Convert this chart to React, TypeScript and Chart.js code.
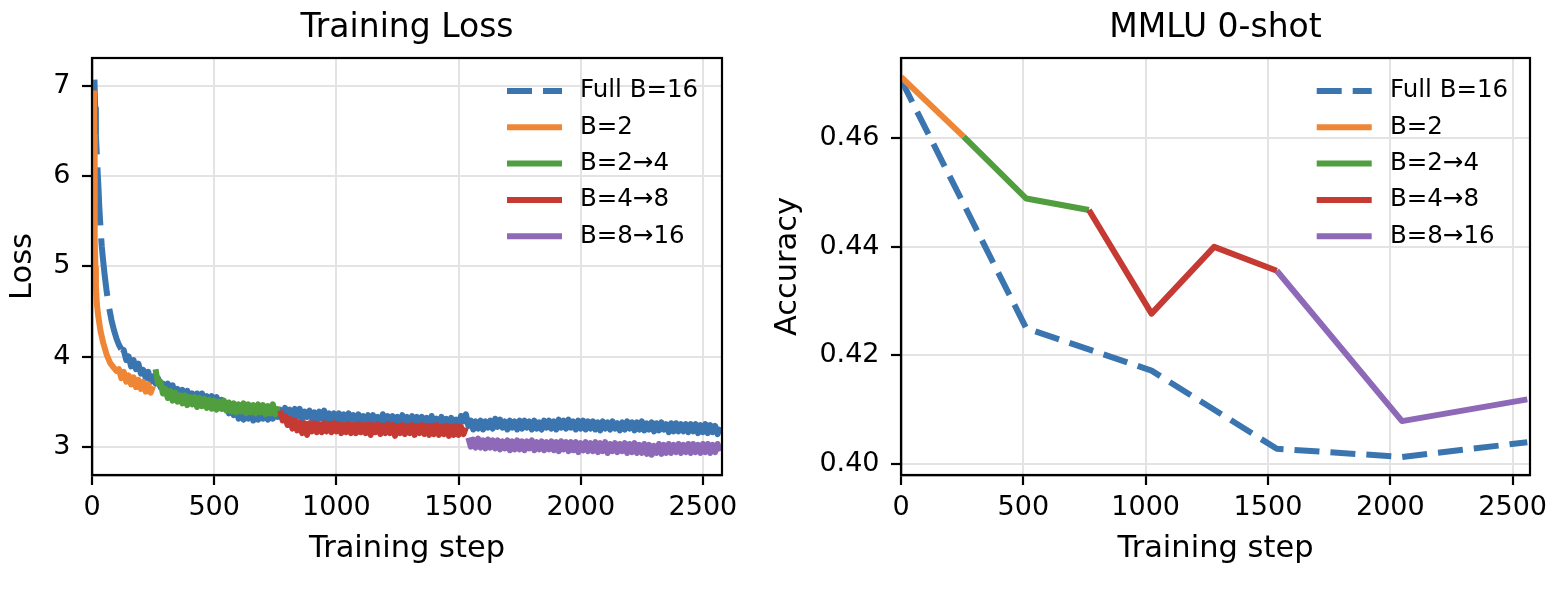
import React, { useEffect, useRef } from 'react';
import { Chart, registerables } from 'chart.js';

Chart.register(...registerables);

const FONT = "'DejaVu Sans', 'Liberation Sans', Arial, sans-serif";

// ---------- shared ----------
const seriesLabels = ['Full B=16', 'B=2', 'B=2→4', 'B=4→8', 'B=8→16'];
const seriesColors = ['#3b75af', '#ef8636', '#519e3e', '#c53a32', '#8d69b8'];

// ---------- Training loss (left) ----------
const LOG_EVERY = 10;
const lossTicksX = [0, 500, 1000, 1500, 2000, 2500];
const lossTicksY = [3, 4, 5, 6, 7];

const lossFullHeadSteps = [10, 13, 16, 20, 23, 26, 30, 35, 40, 46, 52, 60, 70, 80, 90, 100, 110, 120];
const lossFullHead = [7.07, 6.75, 6.45, 6.22, 6.05, 5.9, 5.65, 5.42, 5.22, 5.05, 4.9, 4.72, 4.54, 4.4, 4.29, 4.2, 4.13, 4.08];
const lossFullTailStart = 130;
const lossFullTail = [
  4.07, 3.96, 4.0, 3.89, 3.96, 3.86, 3.92, 3.81, 3.85, 3.76,
  3.83, 3.72, 3.78, 3.7, 3.76, 3.66, 3.7, 3.62, 3.7, 3.61,
  3.68, 3.58, 3.64, 3.55, 3.63, 3.56, 3.62, 3.53, 3.59, 3.5,
  3.59, 3.49, 3.59, 3.5, 3.56, 3.47, 3.56, 3.47, 3.55, 3.46,
  3.52, 3.42, 3.47, 3.37, 3.45, 3.35, 3.41, 3.31, 3.38, 3.3,
  3.39, 3.31, 3.38, 3.29, 3.37, 3.3, 3.39, 3.31, 3.39, 3.3,
  3.39, 3.31, 3.41, 3.33, 3.41, 3.32, 3.43, 3.34, 3.41, 3.33,
  3.42, 3.33, 3.42, 3.31, 3.39, 3.33, 3.4, 3.31, 3.38, 3.3,
  3.39, 3.31, 3.4, 3.3, 3.37, 3.28, 3.37, 3.3, 3.37, 3.28,
  3.36, 3.28, 3.37, 3.26, 3.35, 3.28, 3.36, 3.27, 3.34, 3.25,
  3.35, 3.27, 3.35, 3.26, 3.33, 3.26, 3.36, 3.26, 3.34, 3.25,
  3.34, 3.25, 3.33, 3.24, 3.35, 3.26, 3.33, 3.25, 3.34, 3.26,
  3.33, 3.24, 3.33, 3.24, 3.32, 3.23, 3.34, 3.25, 3.31, 3.22,
  3.33, 3.24, 3.31, 3.22, 3.32, 3.23, 3.3, 3.22, 3.34, 3.28,
  3.36, 3.23, 3.29, 3.19, 3.28, 3.2, 3.29, 3.19, 3.28, 3.21,
  3.29, 3.2, 3.31, 3.22, 3.3, 3.21, 3.28, 3.19, 3.29, 3.21,
  3.28, 3.19, 3.29, 3.2, 3.29, 3.21, 3.28, 3.19, 3.29, 3.2,
  3.27, 3.19, 3.29, 3.21, 3.29, 3.2, 3.28, 3.19, 3.3, 3.21,
  3.29, 3.2, 3.3, 3.21, 3.28, 3.19, 3.29, 3.2, 3.29, 3.19,
  3.28, 3.2, 3.28, 3.19, 3.27, 3.18, 3.28, 3.2, 3.27, 3.19,
  3.28, 3.2, 3.26, 3.18, 3.27, 3.19, 3.28, 3.2, 3.27, 3.18,
  3.27, 3.19, 3.28, 3.18, 3.26, 3.19, 3.27, 3.17, 3.26, 3.18,
  3.27, 3.19, 3.25, 3.16, 3.26, 3.17, 3.26, 3.17, 3.25, 3.17,
  3.25, 3.16, 3.25, 3.17, 3.25, 3.15, 3.24, 3.16, 3.25, 3.15,
  3.24, 3.16, 3.23, 3.14, 3.22,
];

const lossB2HeadSteps = [8, 9, 10, 11, 12, 14, 16, 20, 26, 35, 46, 60, 74, 88, 100];
const lossB2Head = [6.95, 6.45, 6.0, 5.6, 5.3, 4.98, 4.78, 4.58, 4.44, 4.28, 4.15, 4.02, 3.93, 3.88, 3.84];
const lossB2TailStart = 110;
const lossB2Tail = [3.86, 3.76, 3.83, 3.72, 3.79, 3.69, 3.77, 3.66, 3.74, 3.64, 3.72, 3.61, 3.69, 3.6, 3.67];

const lossB24Start = 260;
const lossB24 = [
  3.86, 3.7, 3.72, 3.59, 3.64, 3.54, 3.62, 3.51, 3.6, 3.5,
  3.57, 3.48, 3.57, 3.46, 3.55, 3.47, 3.55, 3.44, 3.54, 3.45,
  3.53, 3.43, 3.52, 3.42, 3.51, 3.41, 3.5, 3.42, 3.51, 3.4,
  3.49, 3.39, 3.48, 3.38, 3.47, 3.39, 3.48, 3.37, 3.47, 3.38,
  3.46, 3.37, 3.47, 3.38, 3.46, 3.36, 3.45, 3.37, 3.47, 3.36,
  3.45,
];

const lossB48Start = 770;
const lossB48 = [
  3.4, 3.29, 3.34, 3.24, 3.31, 3.2, 3.29, 3.18, 3.27, 3.15,
  3.26, 3.13, 3.26, 3.17, 3.26, 3.16, 3.25, 3.16, 3.26, 3.17,
  3.25, 3.16, 3.26, 3.17, 3.25, 3.15, 3.24, 3.16, 3.25, 3.15,
  3.24, 3.15, 3.25, 3.16, 3.24, 3.15, 3.25, 3.13, 3.24, 3.16,
  3.25, 3.14, 3.23, 3.15, 3.25, 3.15, 3.24, 3.12, 3.23, 3.15,
  3.24, 3.14, 3.23, 3.15, 3.24, 3.13, 3.23, 3.15, 3.24, 3.14,
  3.23, 3.13, 3.23, 3.14, 3.24, 3.13, 3.22, 3.14, 3.23, 3.12,
  3.22, 3.13, 3.23, 3.13, 3.22, 3.14, 3.21,
];

const lossB816Start = 1540;
const lossB816 = [
  3.1, 3.0, 3.08, 2.99, 3.09, 2.99, 3.07, 2.98, 3.08, 2.99,
  3.07, 2.98, 3.07, 2.97, 3.06, 2.98, 3.07, 2.96, 3.06, 2.97,
  3.07, 2.97, 3.06, 2.96, 3.06, 2.98, 3.07, 2.96, 3.05, 2.97,
  3.06, 2.96, 3.05, 2.97, 3.06, 2.96, 3.05, 2.95, 3.06, 2.97,
  3.05, 2.95, 3.05, 2.96, 3.05, 2.94, 3.04, 2.96, 3.05, 2.95,
  3.04, 2.95, 3.05, 2.94, 3.04, 2.95, 3.05, 2.93, 3.03, 2.95,
  3.04, 2.94, 3.03, 2.95, 3.04, 2.93, 3.03, 2.94, 3.04, 2.93,
  3.02, 2.93, 3.03, 2.92, 3.02, 2.91, 3.01, 2.93, 3.03, 2.92,
  3.02, 2.93, 3.03, 2.93, 3.02, 2.94, 3.03, 2.93, 3.02, 2.94,
  3.03, 2.93, 3.03, 2.94, 3.02, 2.93, 3.03, 2.94, 3.03, 2.93,
  3.02, 2.94, 3.03, 2.95,
];

// ---------- MMLU 0-shot (right) ----------
const accTicksX = [0, 500, 1000, 1500, 2000, 2500];
const accTicksY = [0.4, 0.42, 0.44, 0.46];
const mmluFullSteps = [0, 512, 1024, 1536, 2048, 2560];
const mmluFull = [0.4708, 0.425, 0.4172, 0.4028, 0.4013, 0.404];
const mmluB2Steps = [0, 256];
const mmluB2 = [0.4713, 0.4603];
const mmluB24Steps = [256, 512, 768];
const mmluB24 = [0.4603, 0.4489, 0.4468];
const mmluB48Steps = [768, 1024, 1280, 1536];
const mmluB48 = [0.4468, 0.4277, 0.44, 0.4356];
const mmluB816Steps = [1536, 2048, 2560];
const mmluB816 = [0.4356, 0.4079, 0.4119];

// ---------- helpers ----------
const pts = (steps: number[], vals: number[]) => steps.map((s, i) => ({ x: s, y: vals[i] }));
const seq = (start: number, vals: number[]) => vals.map((v, i) => ({ x: start + i * LOG_EVERY, y: v }));

const framePlugin = {
  id: 'frame',
  afterDatasetsDraw(chart: any) {
    const { ctx, chartArea: a } = chart;
    ctx.save();
    ctx.strokeStyle = '#000';
    ctx.lineWidth = 2.2;
    ctx.setLineDash([]);
    ctx.strokeRect(a.left, a.top, a.right - a.left, a.bottom - a.top);
    ctx.restore();
  },
};

const legendPlugin = {
  id: 'mplLegend',
  afterDraw(chart: any, _args: any, opts: any) {
    const { ctx, chartArea } = chart;
    const ds = chart.data.datasets;
    ctx.save();
    ds.forEach((d: any, i: number) => {
      const y = chartArea.top + opts.top + i * opts.rowGap;
      ctx.beginPath();
      ctx.setLineDash(d.legendDash || []);
      ctx.lineWidth = opts.lineWidth;
      ctx.strokeStyle = d.borderColor;
      ctx.lineCap = 'butt';
      ctx.moveTo(chartArea.right - opts.handleFrom, y);
      ctx.lineTo(chartArea.right - opts.handleTo, y);
      ctx.stroke();
      ctx.setLineDash([]);
      ctx.fillStyle = '#000';
      ctx.font = `${opts.fontSize}px ${FONT}`;
      ctx.textAlign = 'left';
      ctx.textBaseline = 'middle';
      ctx.fillText(d.label, chartArea.right - opts.textFrom, y);
    });
    ctx.restore();
  },
};

function makeScales(p: {
  xMax: number; yMin: number; yMax: number; xTicks: number[]; yTicks: number[];
  yFmt: (v: number) => string; xTitle: string; yTitle: string; yAxisWidth: number; yTitlePad: number;
}) {
  const grid = { color: '#e3e3e3', lineWidth: 2, drawTicks: true, tickLength: 10, tickColor: '#000', tickWidth: 2.2 };
  const tickFont = { family: FONT, size: 27 };
  return {
    x: {
      type: 'linear', min: 0, max: p.xMax,
      grid, border: { display: true, color: '#000', width: 2.2 },
      afterBuildTicks: (s: any) => { s.ticks = p.xTicks.map((v) => ({ value: v })); },
      afterFit: (s: any) => { s.height = 119; s.paddingLeft = 0; s.paddingRight = 0; },
      ticks: { font: tickFont, color: '#000', padding: 6.5, maxRotation: 0, autoSkip: false, callback: (v: any) => String(v) },
      title: { display: true, text: p.xTitle, font: { family: FONT, size: 30.5 }, color: '#000', padding: { top: 0, bottom: 26.7 } },
    },
    y: {
      type: 'linear', min: p.yMin, max: p.yMax,
      grid, border: { display: true, color: '#000', width: 2.2 },
      afterBuildTicks: (s: any) => { s.ticks = p.yTicks.map((v) => ({ value: v })); },
      afterFit: (s: any) => { s.width = p.yAxisWidth; s.paddingTop = 0; s.paddingBottom = 0; },
      ticks: { font: tickFont, color: '#000', padding: 11.5, autoSkip: false, callback: (v: any) => p.yFmt(Number(v)) },
      title: { display: true, text: p.yTitle, font: { family: FONT, size: 30.5 }, color: '#000', padding: { top: p.yTitlePad, bottom: 0 } },
    },
  };
}

function baseOptions(title: string, scales: any, padRight: number, legend: any) {
  return {
    responsive: false,
    animation: false,
    devicePixelRatio: 1,
    events: [],
    layout: { padding: { left: 0, right: padRight, top: 0, bottom: 0 } },
    elements: { line: { tension: 0, borderJoinStyle: 'round', borderCapStyle: 'butt', fill: false }, point: { radius: 0 } },
    scales,
    plugins: {
      legend: { display: false },
      tooltip: { enabled: false },
      title: {
        display: true, text: title, fullSize: false, color: '#000',
        font: { family: FONT, size: 33, weight: 'normal' },
        padding: { top: 9, bottom: 9.4 },
      },
      mplLegend: legend,
    },
  };
}

function lossConfig(): any {
  const lw = 6;
  const datasets = [
    {
      label: seriesLabels[0], borderColor: seriesColors[0], borderWidth: lw, order: 5,
      legendDash: [25, 11],
      data: [...pts(lossFullHeadSteps, lossFullHead), ...seq(lossFullTailStart, lossFullTail)],
      segment: { borderDash: (ctx: any) => (ctx.p1.parsed.x <= 120 ? [58, 13] : undefined) },
    },
    { label: seriesLabels[1], borderColor: seriesColors[1], borderWidth: lw, order: 4,
      data: [...pts(lossB2HeadSteps, lossB2Head), ...seq(lossB2TailStart, lossB2Tail)] },
    { label: seriesLabels[2], borderColor: seriesColors[2], borderWidth: lw, order: 3, data: seq(lossB24Start, lossB24) },
    { label: seriesLabels[3], borderColor: seriesColors[3], borderWidth: lw, order: 2, data: seq(lossB48Start, lossB48) },
    { label: seriesLabels[4], borderColor: seriesColors[4], borderWidth: lw, order: 1, data: seq(lossB816Start, lossB816) },
  ];
  const scales = makeScales({
    xMax: 2578, yMin: 2.686, yMax: 7.31, xTicks: lossTicksX, yTicks: lossTicksY,
    yFmt: (v) => String(v), xTitle: 'Training step', yTitle: 'Loss', yAxisWidth: 92, yTitlePad: 5.2,
  });
  return {
    type: 'line',
    data: { datasets },
    options: baseOptions('Training Loss', scales, 38, {
      top: 33, rowGap: 36.3, lineWidth: 6, handleFrom: 215, handleTo: 160, textFrom: 142, fontSize: 24.5,
    }),
    plugins: [framePlugin, legendPlugin],
  };
}

function accConfig(): any {
  const lw = 6;
  const datasets = [
    { label: seriesLabels[0], borderColor: seriesColors[0], borderWidth: lw, order: 5, borderDash: [25, 11], legendDash: [25, 11],
      data: pts(mmluFullSteps, mmluFull) },
    { label: seriesLabels[1], borderColor: seriesColors[1], borderWidth: lw, order: 4, data: pts(mmluB2Steps, mmluB2) },
    { label: seriesLabels[2], borderColor: seriesColors[2], borderWidth: lw, order: 3, data: pts(mmluB24Steps, mmluB24) },
    { label: seriesLabels[3], borderColor: seriesColors[3], borderWidth: lw, order: 2, data: pts(mmluB48Steps, mmluB48) },
    { label: seriesLabels[4], borderColor: seriesColors[4], borderWidth: lw, order: 1, data: pts(mmluB816Steps, mmluB816) },
  ];
  const scales = makeScales({
    xMax: 2571, yMin: 0.39797, yMax: 0.47479, xTicks: accTicksX, yTicks: accTicksY,
    yFmt: (v) => v.toFixed(2), xTitle: 'Training step', yTitle: 'Accuracy', yAxisWidth: 141, yTitlePad: 9.7,
  });
  return {
    type: 'line',
    data: { datasets },
    options: baseOptions('MMLU 0-shot', scales, 30, {
      top: 33, rowGap: 36.3, lineWidth: 6, handleFrom: 213.3, handleTo: 158.3, textFrom: 140, fontSize: 24.5,
    }),
    plugins: [framePlugin, legendPlugin],
  };
}

function ChartCanvas({ makeConfig, left, width }: { makeConfig: () => any; left: number; width: number }) {
  const ref = useRef<HTMLCanvasElement | null>(null);
  useEffect(() => {
    if (!ref.current) return;
    const chart = new Chart(ref.current, makeConfig());
    return () => chart.destroy();
  }, [makeConfig]);
  return (
    <canvas
      ref={ref}
      width={width}
      height={594}
      style={{ position: 'absolute', left, top: 0, width, height: 594, display: 'block' }}
    />
  );
}

export default function App() {
  return (
    <div style={{ position: 'absolute', left: 0, top: 0, width: 1560, height: 594, background: '#fff', overflow: 'hidden' }}>
      <ChartCanvas makeConfig={lossConfig} left={0} width={760} />
      <ChartCanvas makeConfig={accConfig} left={760} width={800} />
    </div>
  );
}
